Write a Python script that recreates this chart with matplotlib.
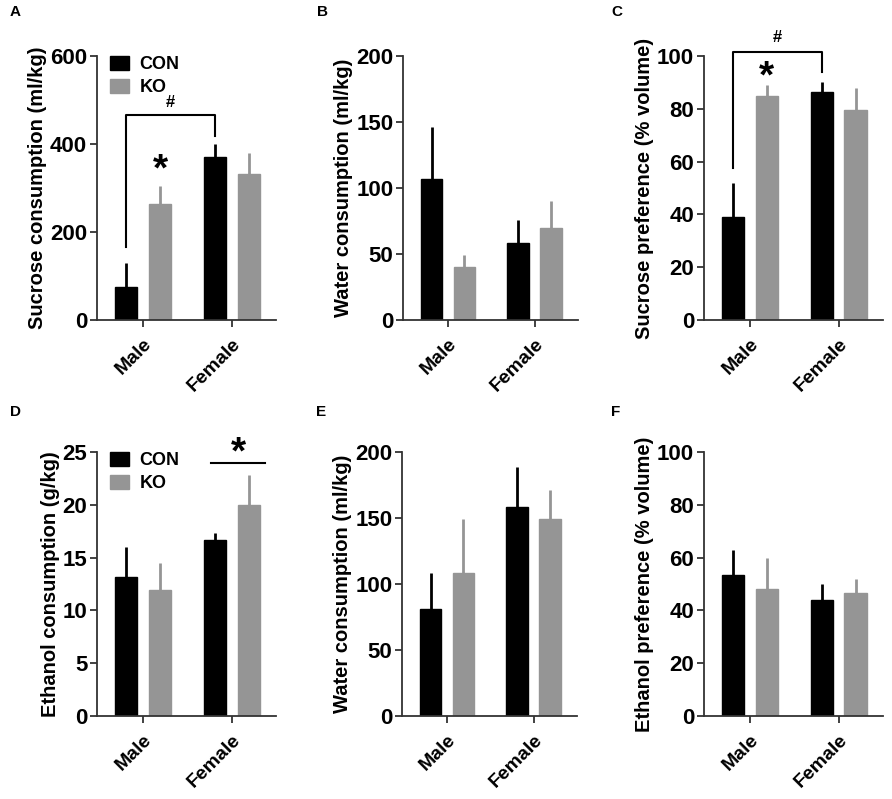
import matplotlib.pyplot as plt

plt.rcParams["font.family"] = ["Liberation Sans", "DejaVu Sans"]
plt.rcParams["font.weight"] = "bold"

GROUPS = ["Male", "Female"]
CON_COLOR = "black"
KO_COLOR = "#959595"

# panel data: (mean, upper sem)
sucrose_con = [75, 370]
sucrose_con_err = [54, 31]
sucrose_ko = [264, 331]
sucrose_ko_err = [41, 49]

water1_con = [107, 58]
water1_con_err = [39, 18]
water1_ko = [40, 70]
water1_ko_err = [9, 20]

sucpref_con = [39, 86.5]
sucpref_con_err = [13, 3.5]
sucpref_ko = [85, 79.5]
sucpref_ko_err = [4, 8.5]

ethanol_con = [13.2, 16.7]
ethanol_con_err = [2.8, 0.6]
ethanol_ko = [11.9, 20.0]
ethanol_ko_err = [2.6, 2.8]

water2_con = [81, 158]
water2_con_err = [27, 31]
water2_ko = [108, 149]
water2_ko_err = [41, 22]

ethpref_con = [53.5, 44]
ethpref_con_err = [9.5, 6]
ethpref_ko = [48, 46.5]
ethpref_ko_err = [12, 5.5]

W = 0.25
OFF = 0.19


def draw_panel(ax, con, con_err, ko, ko_err, ymax, step, ylabel):
    x = range(len(GROUPS))
    xc = [i - OFF for i in x]
    xk = [i + OFF for i in x]
    ax.bar(xc, con, W, color=CON_COLOR, edgecolor="black", linewidth=1, label="CON", zorder=2)
    ax.bar(xk, ko, W, color=KO_COLOR, edgecolor=KO_COLOR, linewidth=1, label="KO", zorder=2)
    ax.errorbar(xc, con, yerr=[[0] * len(con), con_err], fmt="none",
                ecolor=CON_COLOR, elinewidth=2, capsize=0, zorder=1)
    ax.errorbar(xk, ko, yerr=[[0] * len(ko), ko_err], fmt="none",
                ecolor=KO_COLOR, elinewidth=2, capsize=0, zorder=1)
    ax.set_xlim(-0.52, 1.5)
    ax.set_ylim(0, ymax)
    ax.set_yticks(range(0, ymax + 1, step))
    ax.set_xticks(list(x))
    ax.set_xticklabels(GROUPS, rotation=45, ha="right", rotation_mode="anchor",
                       fontsize=14, fontweight="bold")
    ax.tick_params(axis="y", labelsize=16, width=1.3, length=5, color="#333333", pad=2)
    ax.tick_params(axis="x", width=1.3, length=5, color="#333333", pad=6)
    for lab in ax.get_yticklabels():
        lab.set_fontweight("bold")
    ax.set_ylabel(ylabel, fontsize=14.5, fontweight="bold", labelpad=2)
    for s in ["top", "right"]:
        ax.spines[s].set_visible(False)
    for s in ["left", "bottom"]:
        ax.spines[s].set_linewidth(1.3)
        ax.spines[s].set_color("#333333")


def add_legend(ax):
    ax.legend(loc="upper left", bbox_to_anchor=(0.075, 1.0), frameon=False,
              borderaxespad=0, borderpad=0,
              prop={"size": 13, "weight": "bold"}, handlelength=1.05,
              handleheight=0.85, handletextpad=0.55, labelspacing=0.3)


fig = plt.figure(figsize=(8.92, 7.99), dpi=100)

lefts = [0.1087, 0.4518, 0.789]
width = 0.201
bottoms = [0.5995, 0.1039]
height = 0.3304

axA = fig.add_axes([lefts[0], bottoms[0], width, height])
axB = fig.add_axes([lefts[1], bottoms[0], 0.196, height])
axC = fig.add_axes([lefts[2], bottoms[0], width, height])
axD = fig.add_axes([lefts[0], bottoms[1], width, height])
axE = fig.add_axes([0.4507, bottoms[1], 0.196, height])
axF = fig.add_axes([lefts[2], bottoms[1], width, height])

draw_panel(axA, sucrose_con, sucrose_con_err, sucrose_ko, sucrose_ko_err, 600, 200,
           "Sucrose consumption (ml/kg)")
add_legend(axA)
# bracket male CON vs female CON
axA.plot([-0.19, -0.19, 0.81, 0.81], [166, 466, 466, 418], color="black", lw=1.5, clip_on=False)
axA.text(0.31, 478, "#", ha="center", va="bottom", fontsize=12, fontweight="bold")
axA.text(0.19, 300, "*", ha="center", va="bottom", fontsize=28, fontweight="bold")

draw_panel(axB, water1_con, water1_con_err, water1_ko, water1_ko_err, 200, 50,
           "Water consumption (ml/kg)")

draw_panel(axC, sucpref_con, sucpref_con_err, sucpref_ko, sucpref_ko_err, 100, 20,
           "Sucrose preference (% volume)")
axC.plot([-0.19, -0.19, 0.81, 0.81], [57.5, 101.5, 101.5, 94], color="black", lw=1.5, clip_on=False)
axC.text(0.31, 104, "#", ha="center", va="bottom", fontsize=12, fontweight="bold")
axC.text(0.19, 85, "*", ha="center", va="bottom", fontsize=28, fontweight="bold", clip_on=False)

draw_panel(axD, ethanol_con, ethanol_con_err, ethanol_ko, ethanol_ko_err, 25, 5,
           "Ethanol consumption (g/kg)")
add_legend(axD)
axD.plot([0.77, 1.37], [24, 24], color="black", lw=1.5, clip_on=False)
axD.text(1.07, 23.2, "*", ha="center", va="bottom", fontsize=28, fontweight="bold")

draw_panel(axE, water2_con, water2_con_err, water2_ko, water2_ko_err, 200, 50,
           "Water consumption (ml/kg)")

draw_panel(axF, ethpref_con, ethpref_con_err, ethpref_ko, ethpref_ko_err, 100, 20,
           "Ethanol preference (% volume)")

for lab, (px, py) in zip("ABCDEF", [(10, 12), (317, 12), (611, 12),
                                     (10, 412), (316, 412), (611, 412)]):
    fig.text(px / 892, 1 - py / 799, lab, ha="left", va="center",
             fontsize=11, fontweight="bold")

plt.savefig("out.png", dpi=100)
